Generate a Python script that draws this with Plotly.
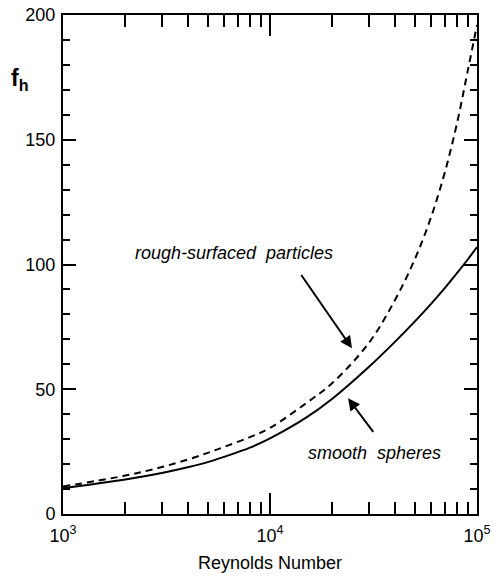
import plotly.graph_objects as go

# Reynolds numbers at which the curves are sampled
reynolds = [1000, 2000, 3000, 4000, 5000, 6000, 8000, 10000, 15000, 20000,
            30000, 40000, 50000, 60000, 70000, 80000, 90000, 100000]

# heat-transfer factor f_h for smooth spheres (solid line)
fh_smooth = [10.3, 13.8, 16.4, 18.7, 20.8, 22.9, 26.6, 30.3, 38.7, 46.2,
             58.9, 68.9, 77.1, 84.2, 90.6, 96.5, 101.9, 107.0]

# heat-transfer factor f_h for rough-surfaced particles (dashed line)
fh_rough = [11.0, 15.4, 18.8, 21.8, 24.5, 26.9, 30.8, 34.5, 44.5, 52.5,
            68.5, 85.5, 102.0, 119.0, 137.1, 156.5, 177.2, 196.0]

x_tickvals = [1e3, 1e4, 1e5]
x_ticktext = ["10<sup>3</sup>", "10<sup>4</sup>", "10<sup>5</sup>"]
x_minor = [m * 10 ** e for e in (3, 4) for m in range(2, 10)]
y_tickvals = [0, 50, 100, 150, 200]

FONT = "Liberation Sans, Arial, Helvetica, sans-serif"

fig = go.Figure()
fig.add_trace(go.Scatter(x=reynolds, y=fh_rough, mode="lines",
                         line=dict(color="black", width=2, dash="7px,5px"),
                         line_shape="spline", showlegend=False))
fig.add_trace(go.Scatter(x=reynolds, y=fh_smooth, mode="lines",
                         line=dict(color="black", width=2),
                         line_shape="spline", showlegend=False))

fig.update_layout(
    width=498, height=578,
    margin=dict(l=63, r=21, t=15, b=64),
    paper_bgcolor="white", plot_bgcolor="white",
    font=dict(family=FONT, color="black", size=18),
    xaxis=dict(
        type="log", range=[3, 5], automargin=False,
        tickvals=x_tickvals, ticktext=x_ticktext,
        ticks="inside", ticklen=21, tickwidth=2, tickcolor="black",
        minor=dict(tickvals=x_minor, ticks="inside", ticklen=12,
                   tickwidth=2, tickcolor="black", showgrid=False),
        showline=True, linecolor="black", linewidth=2, mirror="ticks",
        showgrid=False, zeroline=False,
        tickfont=dict(size=18), ticklabelstandoff=4,
        title=dict(text="Reynolds Number", font=dict(size=18), standoff=12),
    ),
    yaxis=dict(
        range=[0, 200], automargin=False,
        tickvals=y_tickvals,
        ticks="inside", ticklen=13, tickwidth=2, tickcolor="black",
        minor=dict(dtick=10, ticks="inside", ticklen=7, tickwidth=2,
                   tickcolor="black", showgrid=False),
        showline=True, linecolor="black", linewidth=2, mirror="ticks",
        showgrid=False, zeroline=False,
        tickfont=dict(size=18), ticklabelstandoff=2,
    ),
)

# axis symbol
fig.add_annotation(text="<b>f</b><sub><b>h</b></sub>", xref="paper", yref="y",
                   x=-0.105, y=174, showarrow=False,
                   font=dict(size=23, family=FONT), xanchor="center")

# curve labels with arrows
fig.add_annotation(text="rough-surfaced  particles", x=3.825, y=104.6,
                   xref="x", yref="y", showarrow=False,
                   font=dict(size=18, family=FONT, style="italic"))
fig.add_annotation(x=4.396, y=66.4, ax=4.146, ay=96.4,
                   xref="x", yref="y", axref="x", ayref="y",
                   showarrow=True, arrowhead=2, arrowsize=1.2, arrowwidth=2,
                   arrowcolor="black", text="")
fig.add_annotation(text="smooth  spheres", x=4.507, y=24.3,
                   xref="x", yref="y", showarrow=False,
                   font=dict(size=18, family=FONT, style="italic"))
fig.add_annotation(x=4.377, y=46.4, ax=4.504, ay=32.3,
                   xref="x", yref="y", axref="x", ayref="y",
                   showarrow=True, arrowhead=2, arrowsize=1.2, arrowwidth=2,
                   arrowcolor="black", text="")

fig.write_html("out.html")
